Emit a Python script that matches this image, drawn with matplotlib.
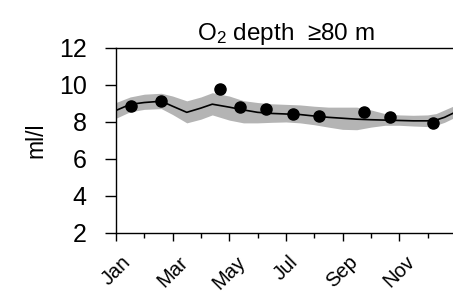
import matplotlib.pyplot as plt

plt.rcParams['font.family'] = ['Liberation Sans', 'DejaVu Sans']
plt.rcParams['mathtext.fontset'] = 'custom'
plt.rcParams['mathtext.rm'] = 'Liberation Sans'
plt.rcParams['mathtext.it'] = 'Liberation Sans:italic'

# month index (0 = start of Jan)
month_labels = ['Jan', 'Mar', 'May', 'Jul', 'Sep', 'Nov']
month_ticks = [0, 2, 4, 6, 8, 10]

# fitted seasonal mean and its band
fit_month = [0.0, 0.5, 1.0, 1.6, 2.0, 2.5, 3.0, 3.4, 4.0, 4.5, 5.0, 5.5, 6.0,
             6.5, 7.0, 7.5, 8.0, 8.5, 9.0, 9.5, 10.0, 10.5, 11.0, 11.3, 11.6, 11.9]
fit_mean = [8.62, 8.95, 9.05, 9.12, 8.85, 8.52, 8.75, 8.96, 8.80, 8.65, 8.52, 8.46, 8.43,
            8.40, 8.32, 8.25, 8.20, 8.15, 8.12, 8.10, 8.08, 8.06, 8.06, 8.10, 8.25, 8.47]
fit_upper = [9.05, 9.35, 9.50, 9.55, 9.40, 9.14, 9.35, 9.58, 9.40, 9.15, 9.05, 8.98, 8.95,
             8.92, 8.85, 8.80, 8.80, 8.80, 8.65, 8.45, 8.38, 8.36, 8.38, 8.45, 8.65, 8.85]
fit_lower = [8.20, 8.55, 8.68, 8.72, 8.40, 7.95, 8.15, 8.38, 8.10, 7.95, 7.95, 7.98, 8.00,
             7.95, 7.85, 7.72, 7.60, 7.58, 7.72, 7.82, 7.82, 7.78, 7.75, 7.82, 7.98, 8.20]

# observed monthly values
obs_month = [0.53, 1.58, 3.67, 4.38, 5.28, 6.24, 7.16, 8.74, 9.66, 11.19]
obs_value = [8.86, 9.13, 9.80, 8.83, 8.69, 8.43, 8.34, 8.52, 8.25, 7.97]

fig = plt.figure(figsize=(4.53, 2.94), dpi=100)
ax = fig.add_axes([0.256, 0.2075, 0.744, 0.6295])

ax.fill_between(fit_month, fit_lower, fit_upper, color='#b4b4b4', lw=0)
ax.plot(fit_month, fit_mean, color='black', lw=1.2)
ax.plot(obs_month, obs_value, 'o', color='black', ms=8)

ax.set_xlim(0, 11.9)
ax.set_ylim(2, 12)
ax.set_yticks([2, 4, 6, 8, 10, 12])
ax.set_xticks(month_ticks)
ax.set_xticklabels(month_labels, rotation=45, ha='center')
ax.set_xticks(range(12), minor=True)

ax.tick_params(axis='y', direction='out', length=8, width=1, labelsize=18, pad=13)
ax.tick_params(axis='x', which='major', direction='out', length=6, width=1, labelsize=14.5, pad=8)
ax.tick_params(axis='x', which='minor', direction='out', length=3.5, width=1)

ax.spines['right'].set_visible(False)
for s in ['left', 'top', 'bottom']:
    ax.spines[s].set_linewidth(1.0)

ax.set_ylabel('ml/l', fontsize=16.5, labelpad=8)
ax.set_title('O$_2$ depth  \u226580 m', fontsize=17.5, pad=6, x=0.505)

fig.savefig('out.png', dpi=100)
